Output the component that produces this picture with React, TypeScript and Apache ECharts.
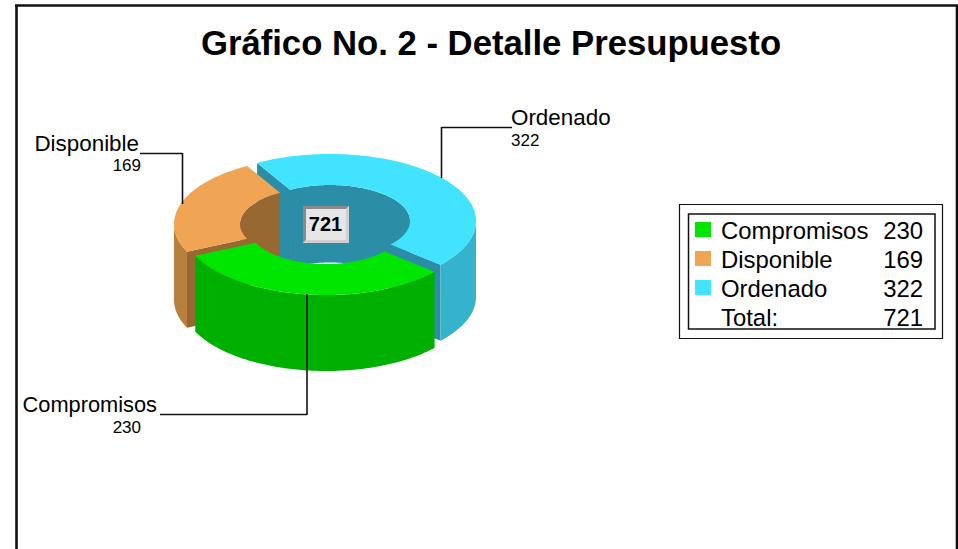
import React, { useEffect, useRef } from "react";
import * as echarts from "echarts";

const categories = ["Compromisos", "Disponible", "Ordenado"];
const values = [230, 169, 322];
const totalLabel = "Total:";
const total = 721;
const titleText = "Gráfico No. 2 - Detalle Presupuesto";

const topColors = ["#00E600", "#F0A555", "#42E3FF"];
const sideColors = ["#00B000", "#B8803F", "#35B2CC"];
const faceColors = ["#008C00", "#986833", "#2B8EA6"];

const FONT = "Liberation Sans, Arial, sans-serif";
const START_ANGLE = 130.8;
const outerRx = [143.5, 146, 146];
const innerRx = [77, 80, 80];
const RY = 67;
const IRY = 36;
const DEPTH = 76;
const INNER_DEPTH = 77.5;
const centers = [
  [326, 228],
  [320, 224],
  [330, 221],
];

const rad = (d: number) => (d * Math.PI) / 180;

function arc(cx: number, cy: number, rx: number, ry: number, a: number, b: number, dy = 0) {
  const pts: number[][] = [];
  const n = Math.max(2, Math.ceil(Math.abs(b - a)));
  for (let i = 0; i <= n; i++) {
    const t = rad(a + ((b - a) * i) / n);
    pts.push([cx + rx * Math.sin(t), cy - ry * Math.cos(t) + dy]);
  }
  return pts;
}

function overlap(a: number, b: number, lo: number, hi: number): number[][] {
  const out: number[][] = [];
  for (const k of [-360, 0, 360]) {
    const s = Math.max(a, lo + k);
    const e = Math.min(b, hi + k);
    if (e > s) out.push([s, e]);
  }
  return out;
}

function sliceChildren(i: number, a: number, b: number) {
  const [cx, cy] = centers[i];
  const RX = outerRx[i];
  const IRX = innerRx[i];
  const poly = (points: number[][], fill: string) => ({
    type: "polygon",
    z2: (2 - i) * 10,
    shape: { points },
    style: { fill },
  });
  const kids: any[] = [];
  overlap(a, b, -90, 90).forEach(([s, e]) => {
    kids.push(poly([...arc(cx, cy, IRX, IRY, s, e), ...arc(cx, cy, IRX, IRY, e, s, INNER_DEPTH)], faceColors[i]));
  });
  const face = (t: number) => {
    const o = arc(cx, cy, RX, RY, t, t + 1e-6)[0];
    const n = arc(cx, cy, IRX, IRY, t, t + 1e-6)[0];
    return poly([o, n, [n[0], n[1] + DEPTH], [o[0], o[1] + DEPTH]], faceColors[i]);
  };
  if (Math.sin(rad(a)) < 0) kids.push(face(a));
  if (Math.sin(rad(b)) > 0) kids.push(face(b));
  overlap(a, b, 90, 270).forEach(([s, e]) => {
    kids.push(poly([...arc(cx, cy, RX, RY, s, e), ...arc(cx, cy, RX, RY, e, s, DEPTH)], sideColors[i]));
  });
  kids.push(poly([...arc(cx, cy, RX, RY, a, b), ...arc(cx, cy, IRX, IRY, b, a)], topColors[i]));
  return kids;
}

const renderItem = (params: any, api: any) => {
  const i = params.dataIndex;
  const sum = values.reduce((p, c) => p + c, 0);
  const before = values.slice(0, i).reduce((p, c) => p + c, 0);
  const a = START_ANGLE + (before / sum) * 360;
  const b = a + (api.value(0) / sum) * 360;
  return { type: "group", children: sliceChildren(i, a, b) };
};

const txt = (text: string, x: number, y: number, size: number, align = "left", weight = "normal") => ({
  type: "text",
  z: 20,
  x,
  y,
  style: { text, fontFamily: FONT, fontSize: size, fontWeight: weight, fill: "#000", align, verticalAlign: "middle" },
});
const line = (x1: number, y1: number, x2: number, y2: number, lineWidth = 1.6) => ({
  type: "line",
  z: 20,
  shape: { x1, y1, x2, y2 },
  style: { stroke: "#111", lineWidth },
});
const box = (x: number, y: number, w: number, h: number, lineWidth: number) => ({
  type: "rect",
  z: 19,
  shape: { x, y, width: w, height: h },
  style: { fill: "none", stroke: "#111", lineWidth },
});

const rowY = [230, 259, 288];
const labelSizes = [21.8, 22.4, 22.4];
const labelPos: any[] = [
  { name: [157, 404, "right"], value: [141, 427, "right"] },
  { name: [139, 143, "right"], value: [141, 165, "right"] },
  { name: [511, 117, "left"], value: [511, 140, "left"] },
];

const graphicElements: any[] = [
  line(16.5, 5, 16.5, 549, 2.6),
  line(15, 5.5, 958, 5.5, 2.6),
  line(957, 5, 957, 549, 2.6),
  // leader lines
  line(160, 414.5, 307, 414.5),
  line(307, 294, 307, 415),
  line(140, 153.5, 182.5, 153.5),
  line(182.5, 153, 182.5, 204),
  line(441.5, 127.5, 512, 127.5),
  line(441.5, 127, 441.5, 178),
  // callout labels
  ...categories.flatMap((c, i) => [
    txt(c, labelPos[i].name[0], labelPos[i].name[1], labelSizes[i], labelPos[i].name[2]),
    txt(String(values[i]), labelPos[i].value[0], labelPos[i].value[1], 17, labelPos[i].value[2]),
  ]),
  // centre total box
  { type: "rect", z: 18, shape: { x: 303, y: 206, width: 46, height: 37 }, style: { fill: "#E6E6E6" } },
  { type: "polygon", z: 19, shape: { points: [[303, 206], [349, 206], [346, 209], [306, 209], [306, 240], [303, 243]] }, style: { fill: "#8A8A8A" } },
  { type: "polygon", z: 19, shape: { points: [[349, 206], [349, 243], [303, 243], [306, 240], [346, 240], [346, 209]] }, style: { fill: "#CFCFCF" } },
  txt(String(total), 325.5, 224, 20, "center", "bold"),
  // legend
  { type: "rect", z: 18, shape: { x: 679, y: 204.5, width: 264, height: 134 }, style: { fill: "#fff" } },
  box(679.5, 204.5, 263, 134, 1.2),
  box(688.5, 214, 246.5, 115, 1.5),
  ...categories.flatMap((c, i) => [
    { type: "rect", z: 20, shape: { x: 695, y: rowY[i] - 8, width: 16, height: 15 }, style: { fill: topColors[i] } },
    txt(c, 721, rowY[i], 23.9),
    txt(String(values[i]), 923, rowY[i], 23.9, "right"),
  ]),
  txt(totalLabel, 721, 317.5, 23.9),
  txt(String(total), 923, 317.5, 23.9, "right"),
];

export default function App() {
  const ref = useRef<HTMLDivElement>(null);
  useEffect(() => {
    const chart = echarts.init(ref.current!, null, { renderer: "svg" });
    chart.setOption({
      animation: false,
      backgroundColor: "#fff",
      title: {
        text: titleText,
        left: 486,
        top: 20,
        textAlign: "center",
        textStyle: { fontFamily: FONT, fontSize: 34.7, fontWeight: "bold", color: "#000" },
      },
      graphic: { elements: graphicElements },
      series: [
        {
          type: "custom",
          coordinateSystem: "none",
          silent: true,
          renderItem,
          data: categories.map((name, i) => ({ name, value: [values[i]] })),
        },
      ],
    });
    return () => chart.dispose();
  }, []);
  return <div ref={ref} style={{ position: "fixed", left: 0, top: 0, width: 958, height: 549 }} />;
}
